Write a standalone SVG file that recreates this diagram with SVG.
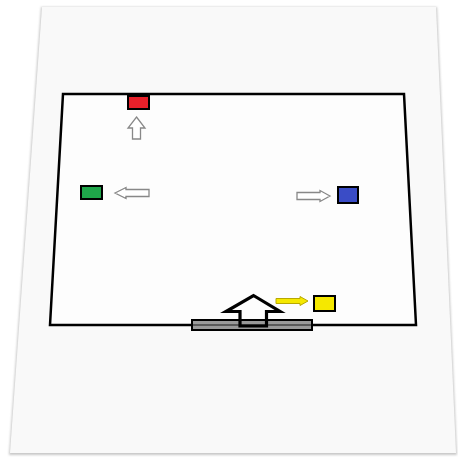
<svg xmlns="http://www.w3.org/2000/svg" width="458" height="457" viewBox="0 0 458 457">
  <defs>
    <filter id="sh" x="-5%" y="-5%" width="110%" height="110%">
      <feGaussianBlur stdDeviation="1"/>
    </filter>
  </defs>
  <style>
    .wall { fill: #fdfdfd; stroke: #000; stroke-width: 2.5; stroke-linejoin: miter; }
    .box { stroke: #000; stroke-width: 2; }
    .hollow { fill: #fff; stroke: #888; stroke-width: 1.3; stroke-linejoin: miter; }
  </style>
  <rect width="458" height="457" fill="#fff"/>
  <!-- page -->
  <polygon points="41,7 437,7 457,455 9,455" fill="#c8c8c8" filter="url(#sh)"/>
  <polygon points="42,7 436,7 456,453 10,453" fill="#f9f9f9"/>
  <!-- room -->
  <g id="room">
    <polygon class="wall" points="63,94 404,94 416,325 50,325"/>
  </g>
  <g id="door">
    <rect x="192" y="320" width="120" height="10" fill="#9a9a9a" stroke="#000" stroke-width="2"/>
    <line x1="193" y1="325" x2="311" y2="325" stroke="#444" stroke-width="1.5"/>
  </g>
  <g id="red"><rect class="box" x="128" y="96" width="21" height="13" fill="#e8202a"/></g>
  <g id="green"><rect class="box" x="81" y="186" width="21" height="13" fill="#1fa64a"/></g>
  <g id="blue"><rect class="box" x="338" y="187" width="20" height="16" fill="#3a4cc6"/></g>
  <g id="yellow"><rect class="box" x="314" y="296" width="21" height="15" fill="#f5e800"/></g>
  <g id="connectors">
    <!-- up arrow under red -->
    <polygon class="hollow" points="136.5,117 145,128 140.5,128 140.5,139 132.5,139 132.5,128 128,128"/>
    <!-- left arrow to green -->
    <polygon class="hollow" points="115,193 126,187.5 126,189.5 149,189.5 149,196.5 126,196.5 126,198.5"/>
    <!-- right arrow to blue -->
    <polygon class="hollow" points="330,196 320,190.5 320,192.5 297,192.5 297,199.5 320,199.5 320,201.5"/>
    <!-- yellow arrow -->
    <polygon points="308,301 300,296.5 300,298.5 276,298.5 276,303.5 300,303.5 300,305.5" fill="#f5e800" stroke="#b8a800" stroke-width="1"/>
    <!-- big entrance arrow -->
    <polygon points="253.5,295.5 280,311.5 266.5,311.5 266.5,326 240,326 240,311.5 226,311.5" fill="none" stroke="#000" stroke-width="3.2" stroke-linejoin="miter"/>
  </g>
</svg>
